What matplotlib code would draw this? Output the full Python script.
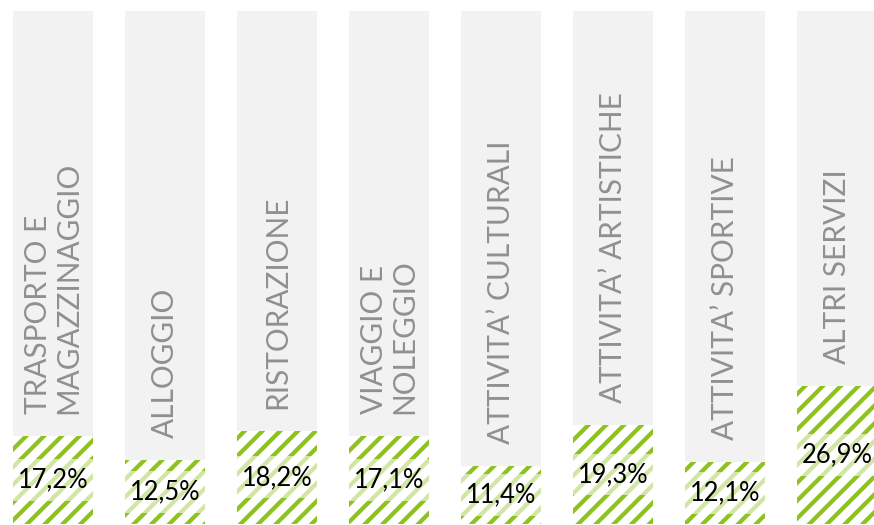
import matplotlib
matplotlib.use("Agg")
import matplotlib.pyplot as plt
from matplotlib.patches import Rectangle

# data
categories = [
    "TRASPORTO E\nMAGAZZINAGGIO",
    "ALLOGGIO",
    "RISTORAZIONE",
    "VIAGGIO E\nNOLEGGIO",
    "ATTIVITA\u2019 CULTURALI",
    "ATTIVITA\u2019 ARTISTICHE",
    "ATTIVITA\u2019 SPORTIVE",
    "ALTRI SERVIZI",
]
values = [17.2, 12.5, 18.2, 17.1, 11.4, 19.3, 12.1, 26.9]
value_labels = ["17,2%", "12,5%", "18,2%", "17,1%", "11,4%", "19,3%", "12,1%", "26,9%"]

GREEN = "#8DC21F"
BG = "#F2F2F2"
DPI = 160
plt.rcParams["hatch.linewidth"] = 1.9

fig = plt.figure(figsize=(874 / DPI, 525 / DPI), dpi=DPI)
ax = fig.add_axes([0, 0, 1, 1])
ax.set_axis_off()

x = list(range(len(categories)))
width = 80 / 112
px = 5.15  # pixels per unit of y

ax.bar(x, [100] * len(x), width=width, color=BG, linewidth=0)
ax.bar(x, values, width=width, facecolor="white", edgecolor=GREEN,
       hatch="///", linewidth=0)

for xi, v, cat, lab in zip(x, values, categories, value_labels):
    # label band behind the value
    mid = v / 2
    ax.add_patch(Rectangle((xi - width / 2, mid - 21 / px), width, 42 / px,
                           facecolor="white", alpha=0.6, linewidth=0))
    ax.text(xi, mid, lab, ha="center", va="center", fontsize=11.5,
            family="Lato", color="black")
    ax.text(xi, v + 22 / px, cat, rotation=90, rotation_mode="anchor",
            ha="left", va="center", multialignment="left",
            fontsize=13.4, family="Lato", fontweight="normal",
            color="#909090", linespacing=1.12)

ax.set_xlim(-53 / 112, (874 - 53) / 112)
ax.set_ylim(-1 / px, 100 + 11 / px)

fig.savefig("out.png", dpi=DPI)
